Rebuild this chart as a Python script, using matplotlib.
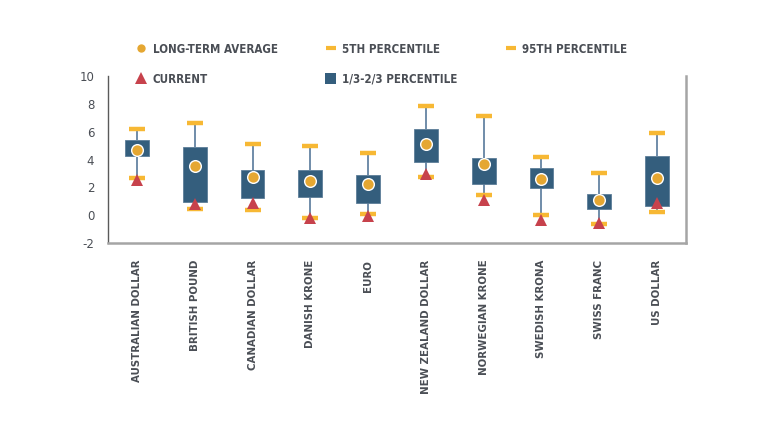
import matplotlib

matplotlib.use("Agg")
import matplotlib.pyplot as plt
from matplotlib.lines import Line2D
from matplotlib.patches import Patch

currencies = [
    "AUSTRALIAN DOLLAR", "BRITISH POUND", "CANADIAN DOLLAR", "DANISH KRONE",
    "EURO", "NEW ZEALAND DOLLAR", "NORWEGIAN KRONE", "SWEDISH KRONA",
    "SWISS FRANC", "US DOLLAR",
]
p95 = [6.2, 6.65, 5.15, 4.95, 4.5, 7.85, 7.1, 4.2, 3.05, 5.9]
p5 = [2.65, 0.45, 0.37, -0.2, 0.07, 2.77, 1.43, 0.0, -0.6, 0.22]
upper_third = [5.4, 4.93, 3.23, 3.25, 2.87, 6.18, 4.12, 3.42, 1.55, 4.28]
lower_third = [4.26, 0.93, 1.24, 1.33, 0.86, 3.83, 2.22, 1.98, 0.45, 0.66]
long_term_avg = [4.67, 3.54, 2.75, 2.46, 2.22, 5.1, 3.68, 2.58, 1.09, 2.65]
current = [2.5, 0.83, 0.88, -0.22, -0.03, 2.94, 1.12, -0.32, -0.58, 0.9]

BOX = "#345e7d"
WHISKER = "#6483a2"
GOLD = "#e5a732"
BAR = "#f7b834"
RED = "#c7424c"
TEXT = "#4a4e55"

FONT = dict(family="DejaVu Sans", stretch="condensed")

plt.rcParams["axes.unicode_minus"] = False

x = list(range(len(currencies)))

fig = plt.figure(figsize=(7.65, 4.37), dpi=100)
ax = fig.add_axes([0.1412, 0.4439, 0.7555, 0.382])

ax.vlines(x, upper_third, p95, color=WHISKER, linewidth=1.3, zorder=1)
ax.vlines(x, p5, lower_third, color=WHISKER, linewidth=1.3, zorder=1)
ax.bar(
    x,
    [u - l for u, l in zip(upper_third, lower_third)],
    bottom=lower_third,
    width=0.41,
    color=BOX,
    edgecolor="#5d7d98",
    linewidth=0.6,
    zorder=2,
)
ax.plot(x, p95, linestyle="none", marker="_", markersize=12,
        markeredgewidth=3.2, color=BAR, zorder=3)
ax.plot(x, p5, linestyle="none", marker="_", markersize=12,
        markeredgewidth=3.2, color=BAR, zorder=3)
ax.plot(x, long_term_avg, linestyle="none", marker="o", markersize=8.4,
        markerfacecolor=GOLD, markeredgecolor="white", markeredgewidth=1.0,
        zorder=4)
ax.plot(x, current, linestyle="none", marker="^", markersize=8.2,
        color=RED, markeredgewidth=0, zorder=5)

ax.set_xlim(-0.5, len(currencies) - 0.5)
ax.set_ylim(-2, 10)
ax.set_yticks(range(-2, 11, 2))
ax.set_xticks(x)
ax.set_xticklabels(currencies, rotation=90, fontsize=8.2, fontweight="bold",
                   color=TEXT, va="top", **FONT)
for label in ax.get_yticklabels():
    label.set_fontsize(8.5)
    label.set_color(TEXT)
    label.set_family("DejaVu Sans")
ax.tick_params(axis="both", length=0)
ax.tick_params(axis="y", pad=10)
ax.tick_params(axis="x", pad=12)

ax.spines["top"].set_visible(False)
ax.spines["left"].set_color("#5a5a5a")
ax.spines["left"].set_linewidth(1.0)
for side in ("bottom", "right"):
    ax.spines[side].set_color("#a5a5a5")
    ax.spines[side].set_linewidth(1.8)

handles = [
    Line2D([], [], linestyle="none", marker="o", markersize=6,
           markerfacecolor=GOLD, markeredgewidth=0),
    Line2D([], [], linestyle="none", marker="^", markersize=8,
           color=RED, markeredgewidth=0),
    Line2D([], [], linestyle="none", marker="_", markersize=7,
           markeredgewidth=3, color=BAR),
    Patch(facecolor=BOX),
    Line2D([], [], linestyle="none", marker="_", markersize=7,
           markeredgewidth=3, color=BAR),
]
labels = ["LONG-TERM AVERAGE", "CURRENT", "5TH PERCENTILE",
          "1/3-2/3 PERCENTILE", "95TH PERCENTILE"]
leg = fig.legend(
    handles,
    labels,
    ncol=3,
    loc="upper left",
    bbox_to_anchor=(0.177, 0.902),
    frameon=False,
    handlelength=1.0,
    handleheight=1.0,
    handletextpad=0.5,
    columnspacing=4.1,
    labelspacing=1.45,
    borderpad=0,
    borderaxespad=0,
    prop=dict(size=8.3, weight="bold", **FONT),
)
for text in leg.get_texts():
    text.set_color(TEXT)

plt.savefig("out.png", dpi=100)
plt.close()
